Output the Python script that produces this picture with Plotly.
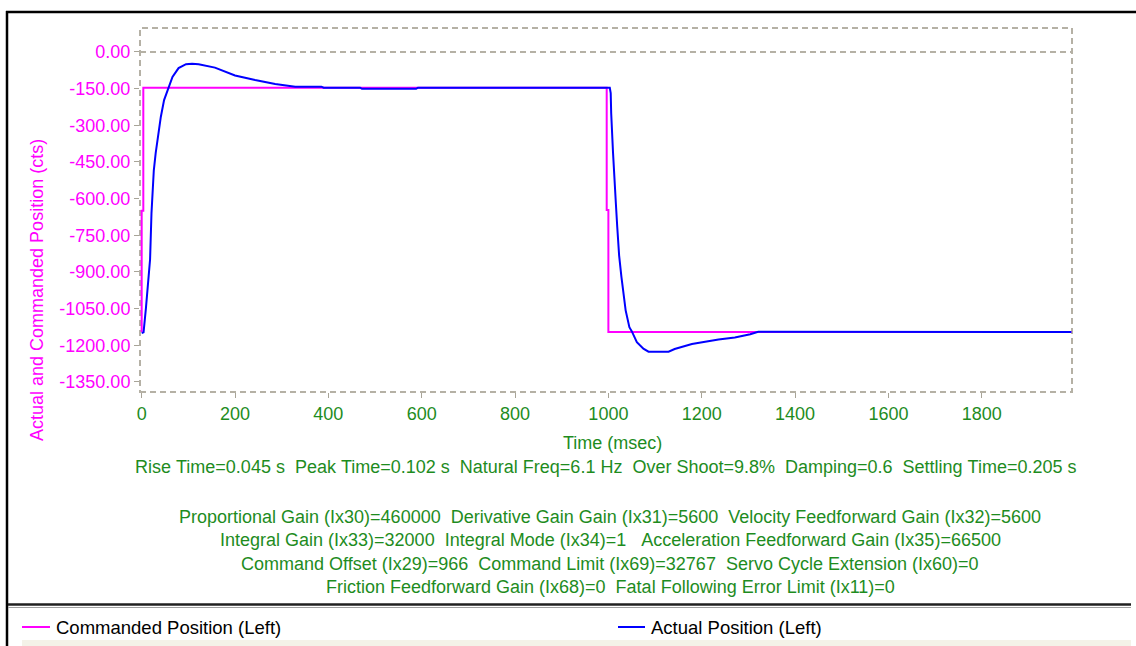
import plotly.graph_objects as go

# ---- servo step response data (time in msec, position in counts) ----
cmd_time = [0, 0, 3.5, 3.5, 996.4, 996.4, 1000, 1000, 1992]
cmd_pos = [-1146, -650, -650, -146, -146, -646, -646, -1146, -1146]

act_time = [0, 4, 9, 14, 18, 21, 26, 30, 36, 41, 48, 57, 66, 79, 95, 108, 122,
            157, 200, 243, 286, 329, 385, 390, 468, 472, 588, 592, 1003,
            1005, 1006, 1010, 1013, 1016, 1019, 1023, 1028, 1032, 1037, 1045,
            1050, 1061, 1075, 1086, 1129, 1142, 1179, 1236, 1271, 1304, 1321,
            1992]
act_pos = [-1150, -1147, -1050, -943, -848, -660, -484, -414, -333, -266, -197,
           -148, -102, -66, -50, -48, -50, -64, -96, -115, -131, -142, -142,
           -146, -146, -151, -151, -146, -146,
           -168, -250, -414, -545, -619, -716, -832, -921, -988, -1057, -1126,
           -1142, -1187, -1214, -1226, -1226, -1215, -1195, -1176, -1168,
           -1155, -1145, -1146]

y_ticks = [0, -150, -300, -450, -600, -750, -900, -1050, -1200, -1350]
y_tick_text = [f"{v:.2f}" for v in y_ticks]
x_ticks = [0, 200, 400, 600, 800, 1000, 1200, 1400, 1600, 1800]

stats_line = ("Rise Time=0.045 s  Peak Time=0.102 s  Natural Freq=6.1 Hz  "
              "Over Shoot=9.8%  Damping=0.6  Settling Time=0.205 s")
gain_lines = [
    "Proportional Gain (Ix30)=460000  Derivative Gain Gain (Ix31)=5600  Velocity Feedforward Gain (Ix32)=5600",
    "Integral Gain (Ix33)=32000  Integral Mode (Ix34)=1   Acceleration Feedforward Gain (Ix35)=66500",
    "Command Offset (Ix29)=966  Command Limit (Ix69)=32767  Servo Cycle Extension (Ix60)=0",
    "Friction Feedforward Gain (Ix68)=0  Fatal Following Error Limit (Ix11)=0",
]
series_names = ["Commanded Position (Left)", "Actual Position (Left)"]

# ---- layout geometry (pixels) ----
W, H = 1136, 646
L, R, T, B = 140, 64, 28, 254
PW, PH = W - L - R, H - T - B

FONT = "Arial, Liberation Sans, sans-serif"
GREEN = "#1e8c1e"
MAGENTA = "#ff00ff"
BLUE = "#0000ff"
GRID = "#b5b1a5"


def px(x):
    return (x - L) / PW


def py(y):
    return (H - B - y) / PH


def nb(s):
    return s.replace(" ", "\u00a0")


fig = go.Figure()
fig.add_trace(go.Scatter(x=cmd_time, y=cmd_pos, mode="lines", name=series_names[0],
                         line=dict(color=MAGENTA, width=2), showlegend=False))
fig.add_trace(go.Scatter(x=act_time, y=act_pos, mode="lines", name=series_names[1],
                         line=dict(color=BLUE, width=2), showlegend=False))

shapes = [
    # dashed plot frame
    dict(type="rect", xref="paper", yref="paper", x0=0, x1=1, y0=0, y1=1,
         line=dict(color=GRID, width=2, dash="6px,4px"), layer="below"),
    # dashed zero line
    dict(type="line", xref="paper", yref="y", x0=0, x1=1, y0=0, y1=0,
         line=dict(color=GRID, width=2, dash="6px,4px"), layer="below"),
    # window frame
    dict(type="line", xref="paper", yref="paper", x0=px(6), x1=px(1136), y0=py(12), y1=py(12),
         line=dict(color="black", width=2.5)),
    dict(type="line", xref="paper", yref="paper", x0=px(7), x1=px(7), y0=py(11), y1=py(646),
         line=dict(color="black", width=2.5)),
    # legend separator
    dict(type="line", xref="paper", yref="paper", x0=px(8), x1=px(1131), y0=py(604.5), y1=py(604.5),
         line=dict(color="#202020", width=2.5)),
    dict(type="line", xref="paper", yref="paper", x0=px(8), x1=px(1131), y0=py(607.5), y1=py(607.5),
         line=dict(color="#a0a0a0", width=1)),
    # legend bottom strip
    dict(type="rect", xref="paper", yref="paper", x0=px(22), x1=px(1131), y0=py(640), y1=py(647),
         line=dict(width=0), fillcolor="#f4f2e8"),
    # legend swatches
    dict(type="line", xref="paper", yref="paper", x0=px(22), x1=px(50), y0=py(627), y1=py(627),
         line=dict(color=MAGENTA, width=2)),
    dict(type="line", xref="paper", yref="paper", x0=px(618), x1=px(645), y0=py(627), y1=py(627),
         line=dict(color=BLUE, width=2)),
]

annotations = [
    dict(text="Time (msec)", x=px(612), y=py(443), xanchor="center", yanchor="middle",
         font=dict(color=GREEN, size=18)),
    dict(text=nb(stats_line), x=px(605), y=py(467), xanchor="center", yanchor="middle",
         font=dict(color=GREEN, size=18)),
    dict(text="Actual and Commanded Position (cts)", x=px(37), y=py(290), textangle=-90,
         xanchor="center", yanchor="middle", font=dict(color=MAGENTA, size=18)),
    dict(text=nb(series_names[0]), x=px(54), y=py(627), xanchor="left", yanchor="middle",
         font=dict(color="black", size=18.5)),
    dict(text=nb(series_names[1]), x=px(649), y=py(627), xanchor="left", yanchor="middle",
         font=dict(color="black", size=18.5)),
]
for i, line in enumerate(gain_lines):
    annotations.append(dict(text=nb(line), x=px(610), y=py(517 + 23.3 * i), xanchor="center",
                            yanchor="middle", font=dict(color=GREEN, size=18)))
for a in annotations:
    a.update(xref="paper", yref="paper", showarrow=False)

fig.update_layout(
    width=W, height=H,
    margin=dict(l=L, r=R, t=T, b=B),
    paper_bgcolor="white", plot_bgcolor="white",
    font=dict(family=FONT, size=18),
    shapes=shapes, annotations=annotations,
    xaxis=dict(range=[-3.6, 1993.4], tickvals=x_ticks, ticks="outside", ticklen=5,
               tickcolor="#a8a498", showgrid=False, zeroline=False, showline=False,
               tickfont=dict(color=GREEN, size=18)),
    yaxis=dict(range=[-1391, 98], tickvals=y_ticks, ticktext=y_tick_text, ticks="outside",
               ticklen=5, tickcolor="#a8a498", showgrid=False, zeroline=False,
               showline=False, tickfont=dict(color=MAGENTA, size=18)),
)

fig.write_html("out.html", include_plotlyjs=True, full_html=True,
               config=dict(displayModeBar=False))
